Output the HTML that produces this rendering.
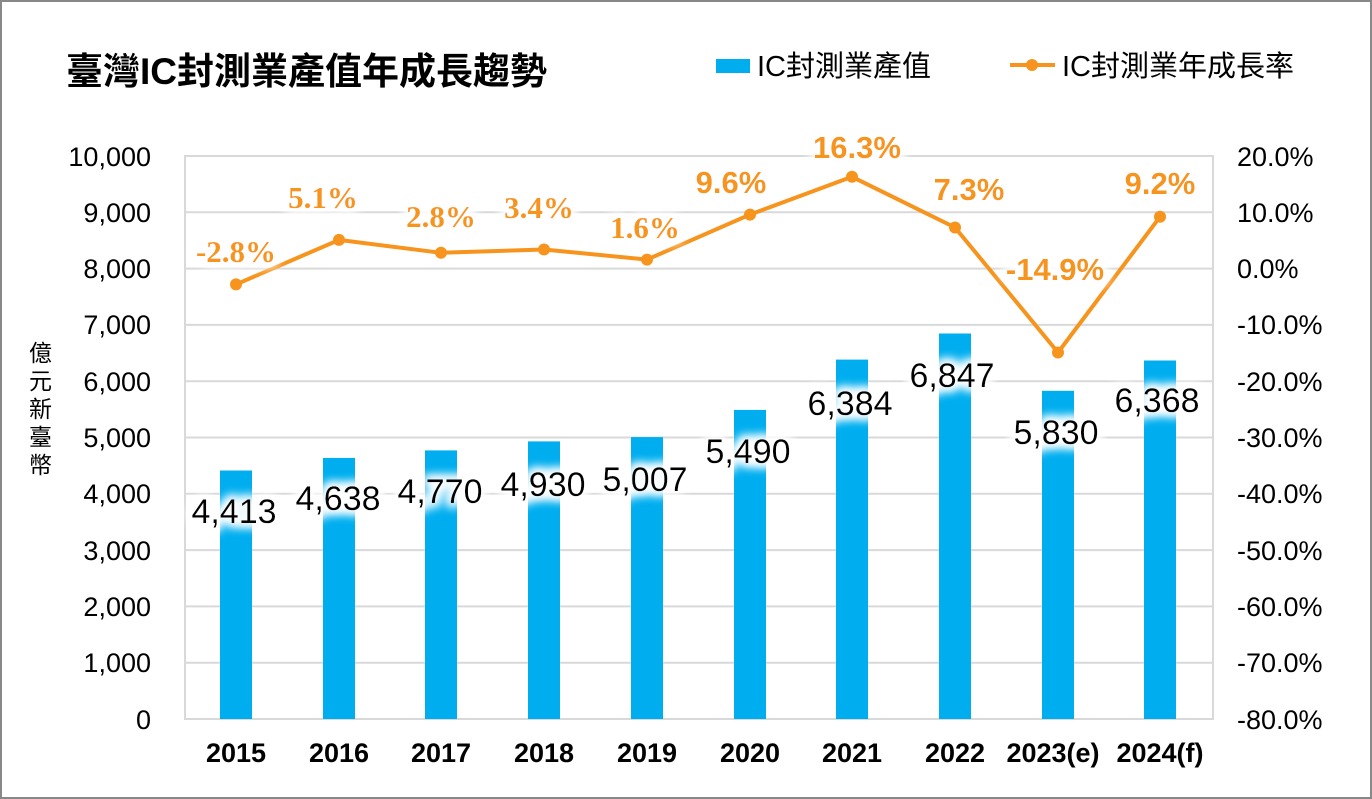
<!DOCTYPE html>
<html><head><meta charset="utf-8"><style>
body{margin:0;background:#fff}
svg{display:block}
</style></head><body>
<svg width="1372" height="799" viewBox="0 0 1372 799" font-family="Liberation Sans,'Noto Sans CJK TC',sans-serif">
<defs>
<filter id="glow" x="-30%" y="-60%" width="160%" height="220%">
<feMorphology in="SourceAlpha" operator="dilate" radius="3" result="d"/>
<feGaussianBlur in="d" stdDeviation="5" result="b"/>
<feFlood flood-color="#fff"/>
<feComposite in2="b" operator="in" result="w"/>
<feMerge><feMergeNode in="w"/><feMergeNode in="w"/><feMergeNode in="SourceGraphic"/></feMerge>
</filter>
</defs>
<rect x="1" y="1" width="1370" height="797" fill="#fff" stroke="#888" stroke-width="2"/>
<text x="66" y="84" font-size="37" font-weight="bold" fill="#000">臺灣IC封測業產值年成長趨勢</text>
<rect x="716" y="59" width="34" height="14" fill="#00AEEF"/>
<text x="757" y="76" font-size="29" fill="#000">IC封測業產值</text>
<line x1="1010" y1="65" x2="1055" y2="65" stroke="#F7941D" stroke-width="4"/>
<circle cx="1032" cy="65" r="6" fill="#F7941D"/>
<text x="1062" y="76" font-size="29" fill="#000">IC封測業年成長率</text>
<g stroke="#d9d9d9" stroke-width="2">
<line x1="185" y1="156" x2="1213" y2="156"/>
<line x1="185" y1="212.3" x2="1213" y2="212.3"/>
<line x1="185" y1="268.6" x2="1213" y2="268.6"/>
<line x1="185" y1="324.9" x2="1213" y2="324.9"/>
<line x1="185" y1="381.2" x2="1213" y2="381.2"/>
<line x1="185" y1="437.5" x2="1213" y2="437.5"/>
<line x1="185" y1="493.8" x2="1213" y2="493.8"/>
<line x1="185" y1="550.1" x2="1213" y2="550.1"/>
<line x1="185" y1="606.4" x2="1213" y2="606.4"/>
<line x1="185" y1="662.7" x2="1213" y2="662.7"/>
<rect x="185" y="156" width="1028" height="563" fill="none"/>
</g>
<g font-size="27" fill="#000" text-anchor="end">
<text x="151" y="166">10,000</text><text x="151" y="222">9,000</text><text x="151" y="278">8,000</text><text x="151" y="334">7,000</text><text x="151" y="391">6,000</text><text x="151" y="447">5,000</text><text x="151" y="503">4,000</text><text x="151" y="560">3,000</text><text x="151" y="616">2,000</text><text x="151" y="672">1,000</text><text x="151" y="729">0</text>
</g>
<g font-size="27" fill="#000">
<text x="1237" y="166">20.0%</text><text x="1237" y="222">10.0%</text><text x="1237" y="278">0.0%</text><text x="1237" y="334">-10.0%</text><text x="1237" y="391">-20.0%</text><text x="1237" y="447">-30.0%</text><text x="1237" y="503">-40.0%</text><text x="1237" y="560">-50.0%</text><text x="1237" y="616">-60.0%</text><text x="1237" y="672">-70.0%</text><text x="1237" y="729">-80.0%</text>
</g>
<g font-size="23" fill="#000">
<text x="29" y="361">億</text><text x="29" y="389">元</text><text x="29" y="417">新</text><text x="29" y="445">臺</text><text x="29" y="473">幣</text>
</g>
<g fill="#00AEEF">
<rect x="220" y="470.5" width="32" height="248.5"/>
<rect x="323" y="457.9" width="32" height="261.1"/>
<rect x="425" y="450.4" width="32" height="268.6"/>
<rect x="528" y="441.4" width="32" height="277.6"/>
<rect x="631" y="437.1" width="32" height="281.9"/>
<rect x="734" y="409.9" width="32" height="309.1"/>
<rect x="836" y="359.6" width="32" height="359.4"/>
<rect x="939" y="333.5" width="32" height="385.5"/>
<rect x="1042" y="390.8" width="32" height="328.2"/>
<rect x="1144" y="360.5" width="32" height="358.5"/>
</g>
<g font-size="34" fill="#000" text-anchor="middle" filter="url(#glow)">
<text x="234" y="523">4,413</text><text x="338" y="510">4,638</text><text x="440" y="503">4,770</text><text x="543" y="496">4,930</text><text x="645" y="491">5,007</text><text x="748" y="463">5,490</text><text x="850" y="415">6,384</text><text x="952" y="387">6,847</text><text x="1056" y="444">5,830</text><text x="1157" y="412">6,368</text>
</g>
<polyline fill="none" stroke="#F7941D" stroke-width="4" stroke-linejoin="round" points="236,284.4 339,239.9 441,252.8 544,249.5 647,259.6 750,214.6 852,176.8 955,227.5 1058,352.5 1160,216.8"/>
<g fill="#F7941D">
<circle cx="236" cy="284.4" r="6"/><circle cx="339" cy="239.9" r="6"/><circle cx="441" cy="252.8" r="6"/><circle cx="544" cy="249.5" r="6"/><circle cx="647" cy="259.6" r="6"/><circle cx="750" cy="214.6" r="6"/><circle cx="852" cy="176.8" r="6"/><circle cx="955" cy="227.5" r="6"/><circle cx="1058" cy="352.5" r="6"/><circle cx="1160" cy="216.8" r="6"/>
</g>
<g font-size="31" font-weight="bold" fill="#F7941D" text-anchor="middle" filter="url(#glow)">
<text x="236" y="262" font-family="Liberation Serif,serif">-2.8%</text>
<text x="323" y="208" font-family="Liberation Serif,serif">5.1%</text>
<text x="441" y="227" font-family="Liberation Serif,serif">2.8%</text>
<text x="539" y="218" font-family="Liberation Serif,serif">3.4%</text>
<text x="645" y="238" font-family="Liberation Serif,serif">1.6%</text>
<text x="731" y="193">9.6%</text>
<text x="857" y="158">16.3%</text>
<text x="969" y="200">7.3%</text>
<text x="1055" y="280">-14.9%</text>
<text x="1160" y="194">9.2%</text>
</g>
<g font-size="27" font-weight="bold" fill="#000" text-anchor="middle">
<text x="236" y="762">2015</text><text x="339" y="762">2016</text><text x="441" y="762">2017</text><text x="544" y="762">2018</text><text x="647" y="762">2019</text><text x="750" y="762">2020</text><text x="852" y="762">2021</text><text x="955" y="762">2022</text><text x="1053" y="762">2023(e)</text><text x="1160" y="762">2024(f)</text>
</g>
</svg>
</body></html>
